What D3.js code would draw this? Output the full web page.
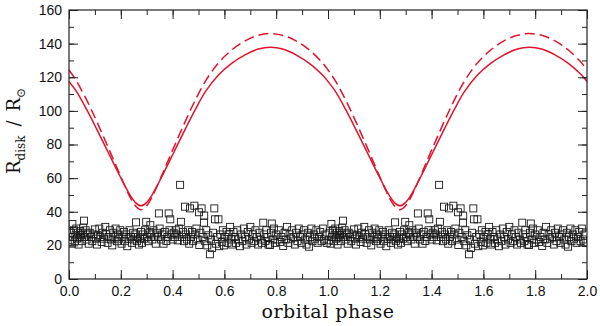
<!DOCTYPE html>
<html>
<head>
<meta charset="utf-8">
<script src="https://cdn.jsdelivr.net/npm/d3@7"></script>
<style>
  body { margin: 0; background: #fff; }
  svg { display: block; }
</style>
</head>
<body>
<div id="chart"></div>
<script>
// one orbital period, plotted twice (phase 0-1 and 1-2)
const modelPhase = [0.000, 0.028, 0.068, 0.098, 0.128, 0.153, 0.178, 0.198, 0.218, 0.238, 0.258, 0.278,
    0.298, 0.318, 0.338, 0.358, 0.378, 0.403, 0.428, 0.458, 0.488, 0.528, 0.578, 0.628, 0.678, 0.728,
    0.778, 0.828, 0.878, 0.928, 0.978, 1.000];
const solidRadius = [117.5, 111.7, 100.9, 91.9, 82.6, 74.8, 67, 60.8, 54.8, 49.3, 45.3, 43.5,
    45.3, 49.3, 54.8, 60.8, 67, 74.8, 82.6, 91.9, 100.9, 111.7, 121.5, 128.3, 133.2, 136.6,
    137.8, 136.6, 133.2, 128.3, 121.5, 117.5];
const dashedRadius = [124.3, 118, 106.5, 96.8, 86.5, 77.7, 68.7, 61.5, 54.5, 48, 43.3, 41.2,
    43.3, 48, 54.5, 61.5, 68.7, 77.7, 86.5, 96.8, 106.5, 118, 128.7, 136.2, 141.5, 144.8,
    146, 144.8, 141.5, 136.2, 128.7, 124.3];

const obsPhase = [0.003, 0.006, 0.010, 0.013, 0.016, 0.019, 0.022, 0.025, 0.028, 0.031, 0.034, 0.037, 0.040, 0.043,
    0.046, 0.050, 0.053, 0.055, 0.058, 0.061, 0.064, 0.068, 0.072, 0.076, 0.080, 0.085, 0.090, 0.095, 0.100, 0.104,
    0.108, 0.112, 0.117, 0.121, 0.126, 0.130, 0.135, 0.140, 0.144, 0.149, 0.153, 0.158, 0.162, 0.167, 0.171, 0.176,
    0.180, 0.185, 0.189, 0.194, 0.198, 0.203, 0.207, 0.212, 0.216, 0.221, 0.225, 0.230, 0.234, 0.239, 0.243, 0.248,
    0.252, 0.256, 0.259, 0.262, 0.266, 0.270, 0.274, 0.278, 0.282, 0.286, 0.290, 0.294, 0.298, 0.302, 0.306, 0.310,
    0.314, 0.318, 0.322, 0.326, 0.330, 0.335, 0.340, 0.344, 0.347, 0.350, 0.355, 0.360, 0.365, 0.370, 0.376, 0.380,
    0.385, 0.388, 0.391, 0.395, 0.400, 0.404, 0.408, 0.412, 0.416, 0.420, 0.424, 0.429, 0.432, 0.436, 0.440, 0.444,
    0.448, 0.452, 0.456, 0.460, 0.464, 0.467, 0.471, 0.475, 0.479, 0.484, 0.488, 0.492, 0.496, 0.502, 0.503, 0.507,
    0.512, 0.516, 0.521, 0.522, 0.526, 0.530, 0.534, 0.538, 0.544, 0.548, 0.552, 0.556, 0.561, 0.564, 0.567, 0.572,
    0.577, 0.580, 0.585, 0.590, 0.594, 0.598, 0.603, 0.608, 0.612, 0.617, 0.622, 0.626, 0.630, 0.635, 0.640, 0.645,
    0.650, 0.655, 0.660, 0.665, 0.670, 0.675, 0.680, 0.685, 0.690, 0.695, 0.700, 0.705, 0.710, 0.715, 0.720, 0.725,
    0.730, 0.735, 0.740, 0.745, 0.750, 0.754, 0.758, 0.762, 0.766, 0.770, 0.776, 0.780, 0.783, 0.787, 0.791, 0.795,
    0.800, 0.805, 0.810, 0.815, 0.820, 0.827, 0.832, 0.837, 0.842, 0.847, 0.852, 0.857, 0.862, 0.867, 0.872, 0.877,
    0.882, 0.887, 0.892, 0.897, 0.902, 0.907, 0.912, 0.917, 0.922, 0.927, 0.931, 0.936, 0.940, 0.945, 0.950, 0.955,
    0.960, 0.965, 0.970, 0.975, 0.980, 0.985, 0.990, 0.995];
const obsRadius = [23, 27.5, 21, 32.7, 25, 29, 22.5, 26, 30, 24, 27.5, 20.5, 25, 28.5,
    26, 22.5, 27.5, 30.5, 34.7, 25, 29, 23.5, 26.5, 21, 27.5, 25, 22.5, 26.5, 29.5, 24,
    20.5, 26, 30, 25, 22, 27.5, 24, 31, 26.5, 21.5, 25, 29, 23.5, 20, 27.5, 25,
    30, 22.5, 26.5, 24, 29, 21, 25, 28, 22.5, 26.5, 19.5, 24, 29, 25, 21.5, 27.5,
    23.5, 26.5, 33.7, 22.5, 25, 20.5, 24, 28, 21.5, 26.5, 24, 29, 34, 25, 22.5, 27.5,
    32, 26.5, 23.5, 29, 25, 21, 27.5, 25, 39, 30, 23.5, 26.5, 21, 28, 22.6, 25,
    39, 29, 35.5, 26.5, 23.5, 27.5, 25, 29, 26.5, 23, 30, 56, 34, 25, 28, 22.5,
    43, 26.5, 23.5, 29, 21, 42, 25, 28, 22.5, 43.6, 26.5, 30, 23.5, 39.7, 20.2, 27.5,
    42, 25, 33.5, 37.7, 22.5, 29, 20, 26, 14.7, 23.5, 18.5, 27.5, 42, 35.5, 21, 25,
    35.5, 19.5, 26.5, 22, 29, 20, 25, 28, 21.5, 26.5, 31, 23.5, 20.5, 28, 25, 21.5,
    29, 23.5, 19.5, 26.5, 22.5, 30, 25, 20.5, 28, 23.5, 31, 21.5, 26.5, 22.5, 29, 25,
    20.5, 27.5, 23.5, 21.5, 33.5, 26.5, 22.5, 29, 25, 20.5, 20.2, 27.5, 33, 23.5, 30, 21.5,
    26.5, 23.5, 29, 22, 25, 19.6, 27.5, 23.5, 31, 21.5, 26.5, 24, 29, 25, 20.5, 27.5,
    22.5, 30, 25, 21.5, 26.5, 29, 23.5, 20.5, 27.5, 19.2, 25, 30, 22.5, 26.5, 24, 29,
    21.5, 25, 28, 22.5, 30, 23.5, 26.5, 21.5];

const periods = [0, 1];
const xMajor = d3.range(0, 2.01, 0.2);
const xMinor = d3.range(0, 2.01, 0.1);
const yMajor = d3.range(0, 161, 20);
const yMinor = d3.range(0, 161, 10);

const width = 600, height = 326;
const margin = {left: 69, right: 13, top: 10, bottom: 47};
const red = "#e3122b";

const svg = d3.select("#chart").append("svg")
    .attr("width", width)
    .attr("height", height);

const x = d3.scaleLinear().domain([0, 2]).range([margin.left, width - margin.right]);
const y = d3.scaleLinear().domain([0, 160]).range([height - margin.bottom, margin.top]);

// repeat the single period over both cycles
function unfold(phase, values) {
    const out = [];
    periods.forEach(function(p) {
        phase.forEach(function(ph, i) {
            out.push({phase: ph + p, value: values[i]});
        });
    });
    return out;
}

const plot = svg.append("g");
plot.append("clipPath").attr("id", "clip")
    .append("rect")
    .attr("x", margin.left).attr("y", margin.top)
    .attr("width", width - margin.left - margin.right)
    .attr("height", height - margin.top - margin.bottom);

// observed disk radii
const obs = unfold(obsPhase, obsRadius);
const sq = 7;
plot.append("g")
    .selectAll("rect")
    .data(obs)
    .enter()
    .append("rect")
    .attr("x", function(d) { return x(d.phase) - sq / 2; })
    .attr("y", function(d) { return y(d.value) - sq / 2; })
    .attr("width", sq)
    .attr("height", sq)
    .attr("fill", "none")
    .attr("stroke", "#1a1a1a")
    .attr("stroke-width", 0.9)
    .attr("clip-path", "url(#clip)");

// model curves
const line = d3.line()
    .x(function(d) { return x(d.phase); })
    .y(function(d) { return y(d.value); })
    .curve(d3.curveCatmullRom.alpha(0.5));

function curveData(values) {
    // drop the duplicated end point of the first period
    return unfold(modelPhase, values).filter(function(d, i) { return i !== modelPhase.length - 1; });
}

plot.append("path")
    .datum(curveData(solidRadius))
    .attr("d", line)
    .attr("fill", "none")
    .attr("stroke", red)
    .attr("stroke-width", 1.5);

plot.append("path")
    .datum(curveData(dashedRadius))
    .attr("d", line)
    .attr("fill", "none")
    .attr("stroke", red)
    .attr("stroke-width", 1.5)
    .attr("stroke-dasharray", "10,5");

//////////////////////////
// Axes (ticks point inward on all sides)
//////////////////////////
const fmtX = d3.format(".1f");
const tickFont = "'Liberation Sans', Arial, sans-serif";
const bottom = height - margin.bottom, right = width - margin.right;

function styleAxis(g) {
    g.select(".domain").remove();
    g.selectAll("line").attr("stroke", "#222").attr("stroke-width", 1);
    g.selectAll("text").attr("font-family", tickFont).attr("font-size", 14).attr("fill", "#111");
}

svg.append("g").attr("transform", "translate(0," + bottom + ")")
    .call(d3.axisBottom(x).tickValues(xMajor).tickSize(-9).tickPadding(7).tickFormat(fmtX))
    .call(styleAxis);
svg.append("g").attr("transform", "translate(0," + bottom + ")")
    .call(d3.axisBottom(x).tickValues(xMinor).tickSize(-5).tickFormat(""))
    .call(styleAxis);
svg.append("g").attr("transform", "translate(0," + margin.top + ")")
    .call(d3.axisTop(x).tickValues(xMajor).tickSize(-9).tickFormat(""))
    .call(styleAxis);
svg.append("g").attr("transform", "translate(0," + margin.top + ")")
    .call(d3.axisTop(x).tickValues(xMinor).tickSize(-5).tickFormat(""))
    .call(styleAxis);

svg.append("g").attr("transform", "translate(" + margin.left + ",0)")
    .call(d3.axisLeft(y).tickValues(yMajor).tickSize(-9).tickPadding(7))
    .call(styleAxis);
svg.append("g").attr("transform", "translate(" + margin.left + ",0)")
    .call(d3.axisLeft(y).tickValues(yMinor).tickSize(-5).tickFormat(""))
    .call(styleAxis);
svg.append("g").attr("transform", "translate(" + right + ",0)")
    .call(d3.axisRight(y).tickValues(yMajor).tickSize(-9).tickFormat(""))
    .call(styleAxis);
svg.append("g").attr("transform", "translate(" + right + ",0)")
    .call(d3.axisRight(y).tickValues(yMinor).tickSize(-5).tickFormat(""))
    .call(styleAxis);

// frame
svg.append("rect")
    .attr("x", margin.left).attr("y", margin.top)
    .attr("width", right - margin.left)
    .attr("height", bottom - margin.top)
    .attr("fill", "none")
    .attr("stroke", "#222")
    .attr("stroke-width", 1.2);

// axis titles
const serif = "'DejaVu Serif', 'Liberation Serif', serif";
svg.append("text")
    .attr("x", x(1))
    .attr("y", 318)
    .attr("text-anchor", "middle")
    .attr("font-family", serif)
    .attr("font-size", 19)
    .attr("letter-spacing", 0.5)
    .attr("fill", "#111")
    .text("orbital phase");

const ylab = svg.append("text")
    .attr("transform", "translate(20,131) rotate(-90)")
    .attr("text-anchor", "middle")
    .attr("font-family", serif)
    .attr("font-size", 18)
    .attr("fill", "#111");
ylab.append("tspan").text("R");
ylab.append("tspan").attr("font-size", 12).attr("dy", 5).text("disk");
ylab.append("tspan").attr("dy", -5).text("\u2002/\u2002R");
ylab.append("tspan").attr("font-size", 12).attr("dy", 5).text("⊙");
</script>
</body>
</html>
